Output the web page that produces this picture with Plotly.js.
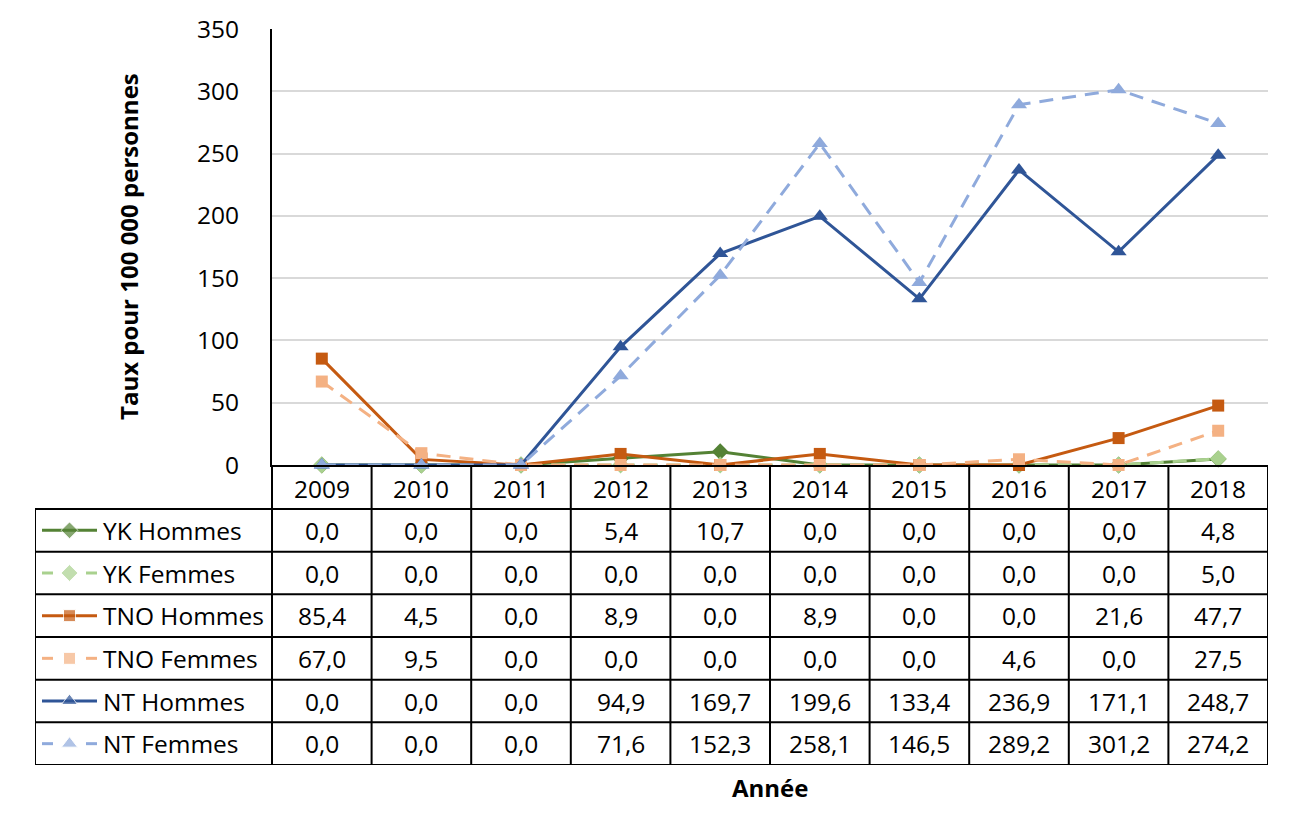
<!DOCTYPE html>
<html>
<head>
<meta charset="utf-8">
<script src="https://cdn.plot.ly/plotly-3.0.1.min.js"></script>
<style>html,body{margin:0;padding:0;background:#fff;}#chart{width:1290px;height:830px;}</style>
</head>
<body>
<div id="chart"></div>
<script>
// ---- data ----
const years = [2009, 2010, 2011, 2012, 2013, 2014, 2015, 2016, 2017, 2018];
const seriesNames = ["YK Hommes", "YK Femmes", "TNO Hommes", "TNO Femmes", "NT Hommes", "NT Femmes"];
const ykHommes  = [0.0, 0.0, 0.0, 5.4, 10.7, 0.0, 0.0, 0.0, 0.0, 4.8];
const ykFemmes  = [0.0, 0.0, 0.0, 0.0, 0.0, 0.0, 0.0, 0.0, 0.0, 5.0];
const tnoHommes = [85.4, 4.5, 0.0, 8.9, 0.0, 8.9, 0.0, 0.0, 21.6, 47.7];
const tnoFemmes = [67.0, 9.5, 0.0, 0.0, 0.0, 0.0, 0.0, 4.6, 0.0, 27.5];
const ntHommes  = [0.0, 0.0, 0.0, 94.9, 169.7, 199.6, 133.4, 236.9, 171.1, 248.7];
const ntFemmes  = [0.0, 0.0, 0.0, 71.6, 152.3, 258.1, 146.5, 289.2, 301.2, 274.2];
const yTitle = "Taux pour 100 000 personnes";
const xTitle = "Année";

(function () {
// ---- styles ----
const styles = [
  {color: "#548235", symbol: "diamond", size: 13, dash: "solid"},
  {color: "#A9D18E", symbol: "diamond", size: 13, dash: "14px,9px"},
  {color: "#C55A11", symbol: "square", size: 12, dash: "solid"},
  {color: "#F4B183", symbol: "square", size: 12, dash: "14px,9px"},
  {color: "#2F5597", symbol: "triangle-up", size: 14, dash: "solid"},
  {color: "#8FAADC", symbol: "triangle-up", size: 14, dash: "14px,9px"}
];
const values = [ykHommes, ykFemmes, tnoHommes, tnoFemmes, ntHommes, ntFemmes];

// ---- layout geometry (pixels) ----
const W = 1290, H = 830;
const pLeft = 35, pRight = 1268, pTop = 29, pBottom = 765;
const plotLeft = 272, plotBottom = 465;
const headerBottom = 509;
const nCols = years.length;
const colW = (pRight - plotLeft) / nCols;
const rowH = (pBottom - headerBottom) / seriesNames.length;
const FONT = "Open Sans, Liberation Sans, sans-serif";
const FS = 24.5;

const traces = [];
values.forEach((v, i) => {
  const s = styles[i];
  traces.push({
    type: "scatter", mode: "lines+markers", x: years, y: v, name: seriesNames[i],
    xaxis: "x", yaxis: "y", cliponaxis: false, showlegend: false,
    line: {color: s.color, width: 3, dash: s.dash},
    marker: {symbol: s.symbol, size: s.size, color: s.color},
    hoverinfo: "x+y+name"
  });
});

// legend keys inside table (pixel axes x2/y2)
seriesNames.forEach((n, i) => {
  const s = styles[i];
  const yc = headerBottom + rowH * (i + 0.5);
  const keyL = 42, keyR = 97, keyM = (keyL + keyR) / 2;
  let xs, ys, sizes;
  if (s.dash === "solid") {
    xs = [keyL, keyM, keyR]; ys = [yc, yc, yc]; sizes = [0, s.size, 0];
  } else {
    xs = [keyL, keyL + 11, null, keyM, null, keyR - 11, keyR];
    ys = [yc, yc, null, yc, null, yc, yc];
    sizes = [0, 0, 0, s.size, 0, 0, 0];
  }
  traces.push({
    type: "scatter", mode: "lines+markers", x: xs, y: ys, xaxis: "x2", yaxis: "y2",
    connectgaps: false, cliponaxis: false, showlegend: false, hoverinfo: "skip",
    line: {color: s.color, width: 3},
    marker: {symbol: s.symbol, size: sizes, color: s.color}
  });
});

const shapes = [];
const annotations = [];
const lineStyle = {color: "#000", width: 2};
function hline(y, x0, x1) { shapes.push({type: "line", xref: "x2", yref: "y2", x0: x0, x1: x1, y0: y, y1: y, line: lineStyle}); }
function vline(x, y0, y1) { shapes.push({type: "line", xref: "x2", yref: "y2", x0: x, x1: x, y0: y0, y1: y1, line: lineStyle}); }

// table grid
hline(headerBottom, pLeft, pRight);
for (let r = 1; r <= seriesNames.length; r++) hline(headerBottom + rowH * r, pLeft, pRight);
vline(pLeft, headerBottom, pBottom);
for (let c = 0; c <= nCols; c++) vline(plotLeft + colW * c, plotBottom, pBottom);

// year header
years.forEach((yr, c) => {
  annotations.push({xref: "x2", yref: "y2", x: plotLeft + colW * (c + 0.5), y: (plotBottom + headerBottom) / 2 + 1,
    text: String(yr), showarrow: false, font: {family: FONT, size: FS, color: "#000"}, xanchor: "center", yanchor: "middle"});
});
// rows
seriesNames.forEach((n, i) => {
  const yc = headerBottom + rowH * (i + 0.5);
  annotations.push({xref: "x2", yref: "y2", x: 101, y: yc, text: n, showarrow: false,
    font: {family: FONT, size: FS, color: "#000"}, xanchor: "left", yanchor: "middle"});
  values[i].forEach((v, c) => {
    annotations.push({xref: "x2", yref: "y2", x: plotLeft + colW * (c + 0.5), y: yc,
      text: v.toFixed(1).replace(".", ","), showarrow: false,
      font: {family: FONT, size: FS, color: "#000"}, xanchor: "center", yanchor: "middle"});
  });
});
// axis titles
annotations.push({xref: "x2", yref: "y2", x: 128, y: (pTop + plotBottom) / 2, text: "<b>" + yTitle + "</b>",
  textangle: -90, showarrow: false, font: {family: FONT, size: 24, color: "#000"}, xanchor: "center", yanchor: "middle"});
annotations.push({xref: "x2", yref: "paper", x: (plotLeft + pRight) / 2, y: (pBottom - 787) / (pBottom - pTop),
  text: "<b>" + xTitle + "</b>",
  showarrow: false, font: {family: FONT, size: 24, color: "#000"}, xanchor: "center", yanchor: "middle"});

const layout = {
  width: W, height: H,
  margin: {l: pLeft, r: W - pRight, t: pTop, b: H - pBottom, pad: 0},
  paper_bgcolor: "#fff", plot_bgcolor: "rgba(0,0,0,0)",
  showlegend: false,
  font: {family: FONT, size: FS, color: "#000"},
  xaxis: {
    domain: [(plotLeft - pLeft) / (pRight - pLeft), 1], range: [years[0] - 0.5, years[years.length - 1] + 0.5],
    showticklabels: false, showgrid: false, zeroline: false, showline: true, linecolor: "#000", linewidth: 2,
    ticks: "", fixedrange: true
  },
  yaxis: {
    domain: [(pBottom - plotBottom) / (pBottom - pTop), 1], range: [0, 350], dtick: 50, tick0: 0,
    showgrid: true, gridcolor: "#d9d9d9", gridwidth: 2, zeroline: false,
    showline: true, linecolor: "#000", linewidth: 2, ticks: "", ticklabelstandoff: 26,
    tickfont: {family: FONT, size: FS, color: "#000"}, fixedrange: true
  },
  xaxis2: {domain: [0, 1], range: [pLeft, pRight], visible: false, fixedrange: true, anchor: "y2"},
  yaxis2: {domain: [0, 1], range: [pBottom, pTop], visible: false, fixedrange: true, anchor: "x2"},
  shapes: shapes,
  annotations: annotations
};

Plotly.newPlot("chart", traces, layout, {displayModeBar: false, staticPlot: true});
})();
</script>
</body>
</html>
